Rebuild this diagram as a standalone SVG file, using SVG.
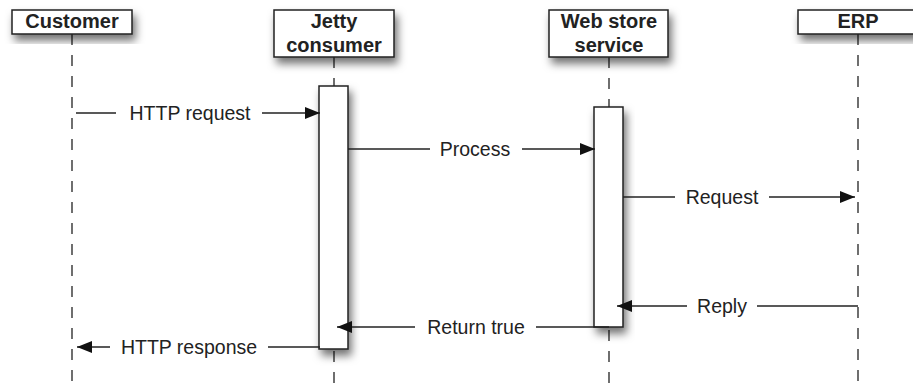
<svg xmlns="http://www.w3.org/2000/svg" width="913" height="385" viewBox="0 0 913 385">
<style>
.box{fill:#fff;stroke:#222;stroke-width:1.5;filter:url(#sh)}
.hd{font-family:"Liberation Sans",Arial,sans-serif;font-weight:bold;font-size:20px;fill:#222;text-anchor:middle}
.lbl{font-family:"Liberation Sans",Arial,sans-serif;font-size:19.5px;fill:#222;text-anchor:middle}
.life{stroke:#222;stroke-width:1.3;stroke-dasharray:11 10;fill:none}
.msg{stroke:#222;stroke-width:1.3;fill:none}
</style>
<defs>
<filter id="sh" x="-40%" y="-40%" width="180%" height="180%">
<feDropShadow dx="3" dy="6" stdDeviation="4" flood-color="#000" flood-opacity="0.55"/>
</filter>
<marker id="ah" viewBox="0 0 15 12" refX="15" refY="6" markerWidth="15" markerHeight="12" markerUnits="userSpaceOnUse" orient="auto">
<path d="M0,0 L15,6 L0,12 Z" fill="#111"/>
</marker>
</defs>
<g id="lifelines">
<line class="life" x1="72" y1="34" x2="72" y2="385"/>
<line class="life" x1="334" y1="57" x2="334" y2="385"/>
<line class="life" x1="609" y1="57" x2="609" y2="385"/>
<line class="life" x1="858" y1="34" x2="858" y2="385"/>
</g>
<g id="customer">
<rect class="box" x="12" y="10" width="120" height="24"/>
<text class="hd" x="72" y="28">Customer</text>
</g>
<g id="jetty">
<rect class="box" x="274" y="10" width="120" height="47"/>
<text class="hd" x="334" y="28">Jetty</text>
<text class="hd" x="334" y="52">consumer</text>
</g>
<g id="webstore">
<rect class="box" x="549" y="10" width="119" height="47"/>
<text class="hd" x="609" y="28">Web store</text>
<text class="hd" x="609" y="52">service</text>
</g>
<g id="erp">
<rect class="box" x="798" y="10" width="120" height="24"/>
<text class="hd" x="858" y="28">ERP</text>
</g>
<g id="jetty-activation">
<rect class="box" x="319" y="86" width="29" height="263"/>
</g>
<g id="webstore-activation">
<rect class="box" x="594" y="107" width="29" height="220"/>
</g>
<g id="connectors">
<line class="msg" x1="76" y1="113" x2="116" y2="113"/>
<line class="msg" x1="262" y1="113" x2="320" y2="113" marker-end="url(#ah)"/>
<text class="lbl" x="190" y="120">HTTP request</text>
<line class="msg" x1="348" y1="149" x2="430" y2="149"/>
<line class="msg" x1="522" y1="149" x2="595" y2="149" marker-end="url(#ah)"/>
<text class="lbl" x="475" y="156">Process</text>
<line class="msg" x1="623" y1="197" x2="675" y2="197"/>
<line class="msg" x1="769" y1="197" x2="855" y2="197" marker-end="url(#ah)"/>
<text class="lbl" x="722" y="204">Request</text>
<line class="msg" x1="858" y1="306" x2="757" y2="306"/>
<line class="msg" x1="687" y1="306" x2="617" y2="306" marker-end="url(#ah)"/>
<text class="lbl" x="722" y="313">Reply</text>
<line class="msg" x1="609" y1="327" x2="536" y2="327"/>
<line class="msg" x1="415" y1="327" x2="337" y2="327" marker-end="url(#ah)"/>
<text class="lbl" x="476" y="334">Return true</text>
<line class="msg" x1="320" y1="347" x2="268" y2="347"/>
<line class="msg" x1="110" y1="347" x2="77" y2="347" marker-end="url(#ah)"/>
<text class="lbl" x="189" y="354">HTTP response</text>
</g>
</svg>
